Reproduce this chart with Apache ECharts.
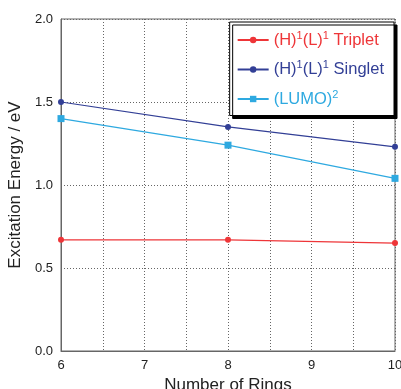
<!DOCTYPE html>
<html><head><meta charset="utf-8">
<script src="https://cdn.jsdelivr.net/npm/echarts@6/dist/echarts.min.js"></script>
<style>html,body{margin:0;padding:0;background:#fff}#c{width:401px;height:389px}</style>
</head><body><div id="c"></div>
<script>
const rings = [6, 8, 10];
const triplet = [0.67, 0.67, 0.65];
const singlet = [1.50, 1.35, 1.23];
const lumo2 = [1.40, 1.24, 1.04];
const xTicks = [6, 7, 8, 9, 10];
const yTicks = [0.0, 0.5, 1.0, 1.5, 2.0];
const names = ['triplet', 'singlet', 'lumo'];

const chart = echarts.init(document.getElementById('c'));
const font = 'Liberation Sans, Arial, sans-serif';
const cols = {triplet: '#ee3538', singlet: '#323f96', lumo: '#2ea9e0'};
function pts(v){ return rings.map((x,i)=>[x, v[i]]); }
function mk(name, vals, sym, size){
  return {name, type:'line', data: pts(vals), symbol: sym, symbolSize: size,
    color: cols[name], lineStyle:{width:1.2, color: cols[name]}, itemStyle:{color: cols[name]}, z:3};
}
const fs = 16.5, ss = 11;
const rich = {
  triplet:{color:cols.triplet, fontSize:fs, fontFamily:font},
  singlet:{color:cols.singlet, fontSize:fs, fontFamily:font},
  lumo:{color:cols.lumo, fontSize:fs, fontFamily:font},
  tsup:{color:cols.triplet, fontSize:ss, fontFamily:font, verticalAlign:'top', padding:[0,0,9,0]},
  ssup:{color:cols.singlet, fontSize:ss, fontFamily:font, verticalAlign:'top', padding:[0,0,9,0]},
  lsup:{color:cols.lumo, fontSize:ss, fontFamily:font, verticalAlign:'top', padding:[0,0,9,0]}
};
const labelFmt = {
  triplet: '{triplet|(H)}{tsup|1}{triplet|(L)}{tsup|1}{triplet| Triplet}',
  singlet: '{singlet|(H)}{ssup|1}{singlet|(L)}{ssup|1}{singlet| Singlet}',
  lumo: '{lumo|(LUMO)}{lsup|2}'
};
chart.setOption({
  animation:false,
  backgroundColor:'#fff',
  grid:{left:61, right:6, top:19, bottom:38, show:true, borderColor:'#666', borderWidth:1, outerBoundsMode:'none', containLabel:false},
  legend:{
    data: names, orient:'vertical', right:7, top:22,
    backgroundColor:'#fff', borderColor:'#000', borderWidth:1,
    shadowColor:'#000', shadowOffsetX:3, shadowOffsetY:3, shadowBlur:0,
    padding:[8,10,8,7], itemGap:11, itemWidth:31, itemHeight:8,
    formatter: n => labelFmt[n],
    textStyle:{rich, fontSize:fs, fontFamily:font}
  },
  xAxis:{type:'value', min:6, max:10, interval:0.5,
    name:'Number of Rings', nameLocation:'middle', nameGap:25,
    nameTextStyle:{fontSize:17, fontFamily:font, color:'#222'},
    axisLine:{show:true, lineStyle:{color:'#666'}}, axisTick:{show:false},
    axisLabel:{fontSize:13, fontFamily:font, color:'#222', margin:8,
      formatter: v => xTicks.includes(v) ? String(v) : ''},
    splitLine:{show:true, lineStyle:{type:[1,2], color:'#666', width:1}}},
  yAxis:{type:'value', min:0, max:2, interval:0.5,
    name:'Excitation Energy / eV', nameLocation:'middle', nameGap:32,
    nameTextStyle:{fontSize:17, fontFamily:font, color:'#222'},
    axisLine:{show:true, lineStyle:{color:'#666'}}, axisTick:{show:false},
    axisLabel:{fontSize:13, fontFamily:font, color:'#222', margin:8,
      formatter: v => { const t = yTicks.find(y => Math.abs(y-v)<1e-9); return t===undefined ? '' : t.toFixed(1); }},
    splitLine:{show:true, lineStyle:{type:[1,2], color:'#666', width:1}}},
  series:[
    mk('triplet', triplet, 'circle', 6),
    mk('singlet', singlet, 'circle', 6),
    mk('lumo', lumo2, 'rect', 7)
  ]
});
</script></body></html>
